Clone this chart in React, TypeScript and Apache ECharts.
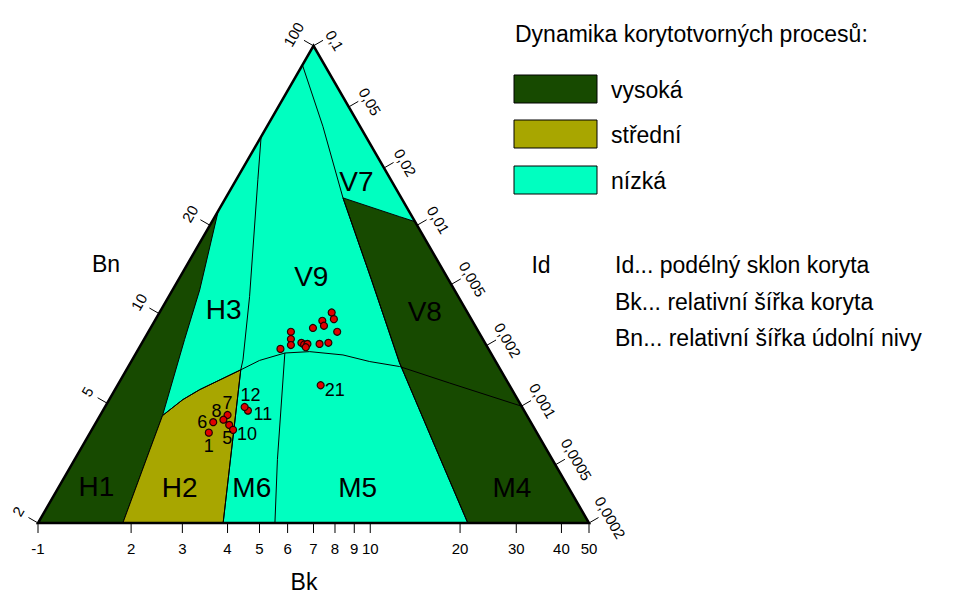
import React, { useEffect, useRef } from "react";
import * as echarts from "echarts";

const FONT = "'Liberation Sans', Arial, sans-serif";

// plot space: x = position along the base (0..100), y = height (apex at 86.6)
const apex = [50, 86.6];
const triangle = [[0, 0], [100, 0], apex];

// axis ticks
const bkTicks = ["-1", "2", "3", "4", "5", "6", "7", "8", "9", "10", "20", "30", "40", "50"];
const bkTickPos = [0, 16.9, 26.2, 34.4, 40.2, 45.3, 50, 53.9, 57.4, 60.3, 76.6, 86.8, 95.0, 100];
const bnTicks = ["2", "5", "10", "20", "100"];
const bnTickPos = [0, 0.251, 0.439, 0.624, 1];
const idTicks = ["0,1", "0,05", "0,02", "0,01", "0,005", "0,002", "0,001", "0,0005", "0,0002"];
const idTickPos = [0, 0.128, 0.256, 0.376, 0.5, 0.628, 0.755, 0.878, 1];

// regions
const regionH1 = [[0, 0], [32.7, 56.6], [29.35, 42.3], [26.6, 33.3], [22.6, 19.5], [20.3, 13.3], [15.4, 0]];
const regionH2 = [[15.4, 0], [20.3, 13.3], [22.6, 19.5], [26.3, 22.4], [29.35, 24.2], [36.8, 27.8], [33.6, 0]];
const regionV8M4 = [[68.4, 54.7], [100, 0], [78.0, 0], [71.8, 14.5], [65.6, 29.1], [60.5, 44.2], [55.35, 59.0], [65.6, 55.6]];

// boundary lines
const lineH3V9 = [[40.5, 70.2], [39.9, 62.3], [38.4, 41.1], [37.2, 29.6], [36.8, 27.8], [33.6, 0]];
const lineV7V9 = [[48.0, 83.1], [51.7, 72.0], [55.35, 59.0], [60.5, 44.2], [65.6, 29.1], [71.8, 14.5], [78.0, 0]];
const curveVM = [[22.6, 19.5], [26.3, 22.4], [29.35, 24.2], [36.8, 27.8], [40.2, 29.5], [44.8, 30.85], [49.3, 31.1], [55.35, 30.5], [60.2, 29.3], [65.6, 28.4], [74.7, 25.4], [87.75, 21.2]];
const lineM6M5 = [[44.8, 30.85], [43.45, 11.5], [43.0, 0]];

const regionNames = ["H1", "H2", "M6", "M5", "M4", "H3", "V9", "V8", "V7"];
const regionLabelPos = [[10.6, 6.6], [25.7, 6.4], [38.8, 6.4], [58.0, 6.4], [86.0, 6.4], [33.7, 38.7], [49.6, 44.7], [70.2, 38.35], [57.8, 61.9]];

// sites
const clusterSites = [
  [44.0, 31.6], [45.9, 34.7], [45.9, 33.4], [45.9, 32.3], [47.8, 32.7], [48.3, 32.4],
  [48.9, 32.5], [48.6, 31.9], [49.9, 35.4], [51.1, 32.5], [51.6, 36.7], [51.9, 35.8],
  [52.7, 32.7], [53.3, 38.2], [53.7, 37.0], [54.3, 34.7],
];
const siteLabels = ["1", "5", "6", "7", "8", "10", "11", "12", "21"];
const labeledSites = [[31.0, 16.4], [34.7, 17.8], [31.8, 18.3], [34.4, 19.6], [33.65, 18.75], [35.4, 16.9], [38.1, 20.4], [37.5, 21.05], [51.3, 25.0]];

const legendNames = ["vysoká", "střední", "nízká"];
const notes = ["Id... podélný sklon koryta", "Bk... relativní šířka koryta", "Bn... relativní šířka údolní nivy"];

const COLORS = { high: "#174a00", mid: "#a8a600", low: "#00ffc0" };
const labelOffsets: Record<string, number[]> = {
  "1": [0, 13], "5": [-2, 13], "6": [-11, 0], "7": [0, -12], "8": [-7, -9],
  "10": [14, 4], "11": [15, 3], "12": [6, -12], "21": [14, 5],
};

const polySeries = (polys: number[][][], fill: string, stroke: string, lineWidth: number, z: number) => ({
  type: "custom",
  coordinateSystem: "cartesian2d",
  data: [[0, 0]],
  silent: true,
  z,
  renderItem: (_p: any, api: any) => ({
    type: "group",
    children: polys.map((poly) => ({
      type: "polygon",
      shape: { points: poly.map((pt) => api.coord(pt)) },
      style: { fill, stroke, lineWidth },
    })),
  }),
});

const lineSeries = (lines: number[][][], z: number) => ({
  type: "custom",
  coordinateSystem: "cartesian2d",
  data: [[0, 0]],
  silent: true,
  z,
  renderItem: (_p: any, api: any) => ({
    type: "group",
    children: lines.map((ln) => ({
      type: "polyline",
      shape: { points: ln.map((pt) => api.coord(pt)) },
      style: { fill: "none", stroke: "#000", lineWidth: 1 },
    })),
  }),
});

const axisSeries = {
  type: "custom",
  coordinateSystem: "cartesian2d",
  data: [[0, 0]],
  silent: true,
  z: 10,
  renderItem: (_p: any, api: any) => {
    const A = api.coord([0, 0]);
    const B = api.coord([100, 0]);
    const C = api.coord(apex);
    const ch: any[] = [];
    const txt = { fontSize: 15, fontFamily: FONT, fill: "#000", align: "center", verticalAlign: "middle" };
    const tick = (p: number[], n: number[], len: number) => ({
      type: "line",
      shape: { x1: p[0], y1: p[1], x2: p[0] + n[0] * len, y2: p[1] + n[1] * len },
      style: { stroke: "#000", lineWidth: 1 },
    });
    bkTickPos.forEach((v, i) => {
      const p = api.coord([v, 0]);
      ch.push(tick(p, [0, 1], 10));
      ch.push({ type: "text", x: p[0], y: p[1] + 25, style: { ...txt, text: bkTicks[i] } });
    });
    const nl = [-Math.sqrt(3) / 2, -0.5];
    bnTickPos.forEach((f, i) => {
      const p = [A[0] + (C[0] - A[0]) * f, A[1] + (C[1] - A[1]) * f];
      ch.push(tick(p, nl, 11));
      ch.push({
        type: "text", x: p[0] + nl[0] * 23, y: p[1] + nl[1] * 23, rotation: Math.PI / 3,
        style: { ...txt, text: bnTicks[i] },
      });
    });
    const nr = [Math.sqrt(3) / 2, -0.5];
    idTickPos.forEach((f, i) => {
      const p = [C[0] + (B[0] - C[0]) * f, C[1] + (B[1] - C[1]) * f];
      ch.push(tick(p, nr, 11));
      ch.push({
        type: "text", x: p[0] + nr[0] * 21 + 0.5 * 6, y: p[1] + nr[1] * 21 + 0.866 * 6, rotation: -Math.PI / 3,
        style: { ...txt, text: idTicks[i] },
      });
    });
    return { type: "group", children: ch };
  },
};

const regionLabelSeries = {
  type: "custom",
  coordinateSystem: "cartesian2d",
  data: [[0, 0]],
  silent: true,
  z: 8,
  renderItem: (_p: any, api: any) => ({
    type: "group",
    children: regionNames.map((name, i) => {
      const p = api.coord(regionLabelPos[i]);
      return {
        type: "text", x: p[0], y: p[1],
        style: { text: name, fontSize: 28, fontFamily: FONT, fill: "#000", align: "center", verticalAlign: "middle" },
      };
    }),
  }),
};

const textEl = (text: string, x: number, y: number, align = "left") => ({
  type: "text", x, y,
  style: { text, fontSize: 23, fontFamily: FONT, fill: "#000", align, verticalAlign: "middle" },
});

const App: React.FC = () => {
  const chartRef = useRef<HTMLDivElement>(null);

  useEffect(() => {
    if (!chartRef.current) return;
    const chart = echarts.init(chartRef.current, null, { renderer: "svg" });
    const fills = [COLORS.high, COLORS.mid, COLORS.low];
    const siteStyle = { color: "#e00000", borderColor: "#200", borderWidth: 1.2, opacity: 1 };
    const option: any = {
      animation: false,
      backgroundColor: "#fff",
      grid: { left: 38, top: 45, width: 551, height: 478 },
      xAxis: { type: "value", min: 0, max: 100, show: false },
      yAxis: { type: "value", min: 0, max: 86.75, show: false },
      graphic: [
        textEl("Dynamika korytotvorných procesů:", 515, 34),
        ...legendNames.flatMap((n, i) => [
          {
            type: "rect", shape: { x: 514, y: [75, 120, 166][i], width: 83, height: 28 },
            style: { fill: fills[i], stroke: "#000", lineWidth: 1 },
          },
          textEl(n, 611, [90, 135, 181][i]),
        ]),
        textEl("Id", 541, 265, "center"),
        ...notes.map((n, i) => textEl(n, 615, [265, 302, 338][i])),
        textEl("Bn", 106, 264, "center"),
        textEl("Bk", 304, 582, "center"),
      ],
      series: [
        polySeries([triangle], COLORS.low, "none", 0, 1),
        polySeries([regionH1, regionV8M4], COLORS.high, "#000", 1, 2),
        polySeries([regionH2], COLORS.mid, "#000", 1, 2),
        lineSeries([lineH3V9, lineV7V9, curveVM, lineM6M5], 3),
        polySeries([triangle], "none", "#000", 2.5, 4),
        axisSeries,
        regionLabelSeries,
        {
          type: "scatter",
          z: 9,
          symbolSize: 7,
          itemStyle: siteStyle,
          data: clusterSites,
        },
        {
          type: "scatter",
          z: 9,
          symbolSize: 7,
          itemStyle: siteStyle,
          data: labeledSites.map((v, i) => ({
            value: v,
            label: {
              show: true,
              position: "inside",
              offset: labelOffsets[siteLabels[i]],
              formatter: siteLabels[i],
              color: "#000",
              fontSize: 18,
              fontFamily: FONT,
            },
          })),
        },
      ],
    };
    chart.setOption(option);
    return () => chart.dispose();
  }, []);

  return (
    <div
      ref={chartRef}
      style={{ position: "absolute", left: 0, top: 0, width: 958, height: 608 }}
    />
  );
};

export default App;
